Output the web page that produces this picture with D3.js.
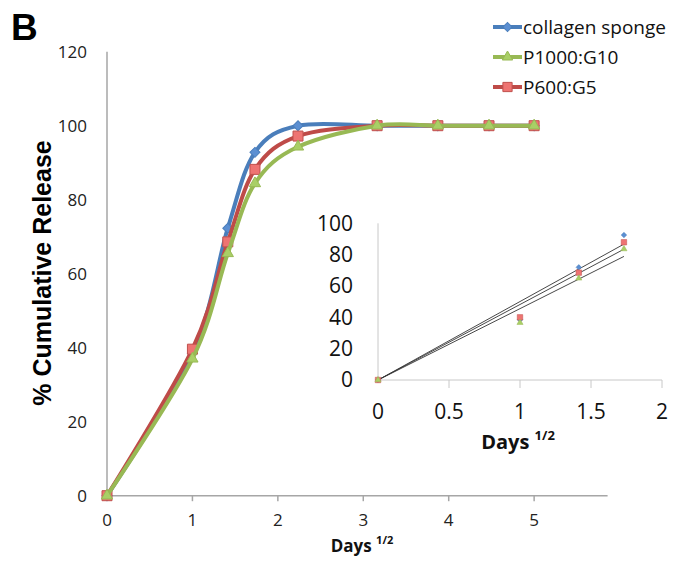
<!DOCTYPE html>
<html>
<head>
<meta charset="utf-8">
<script src="https://cdn.jsdelivr.net/npm/d3@7"></script>
<style>
  body { margin: 0; background: #fff; }
</style>
</head>
<body>
<div id="chart"></div>
<script>
// main chart: cumulative release vs sqrt(days)
const sqrtDays = [0, 1, 1.414, 1.732, 2.236, 3.162, 3.873, 4.472, 5];
const collagen = [0, 38.5, 72.3, 92.8, 100.0, 100, 100, 100, 100];
const p1000 = [0, 37.0, 65.5, 84.4, 94.3, 100, 100, 100, 100];
const p600 = [0, 39.6, 68.6, 88.2, 97.2, 100, 100, 100, 100];
const seriesNames = ["collagen sponge", "P1000:G10", "P600:G5"];
const yTicks = [0, 20, 40, 60, 80, 100, 120];
const xTicks = [0, 1, 2, 3, 4, 5];

// inset: early points with linear fits through the origin
const insetX = [0, 1, 1.414, 1.732];
const insetCollagen = [0, 38.5, 71.9, 92.5];
const insetP1000 = [0, 36.6, 64.9, 83.6];
const insetP600 = [0, 40.0, 68.5, 87.9];
const insetYTicks = [0, 20, 40, 60, 80, 100];
const insetXTicks = [0, 0.5, 1, 1.5, 2];

const width = 675, height = 561;
const svg = d3.select("#chart").append("svg")
  .attr("width", width)
  .attr("height", height)
  .style("font-family", "'Open Sans', sans-serif");

const x = d3.scaleLinear().domain([0, 5.86]).range([107, 607.6]);
const y = d3.scaleLinear().domain([0, 120]).range([495.7, 51.7]);

const series = [
  { name: seriesNames[0], values: collagen, inset: insetCollagen, line: "#4a7ebb", fill: "#5b8fd2", stroke: "#4a7ebb", shape: "diamond" },
  { name: seriesNames[2], values: p600, inset: insetP600, line: "#be4b48", fill: "#ee7472", stroke: "#c0504d", shape: "square" },
  { name: seriesNames[1], values: p1000, inset: insetP1000, line: "#98b954", fill: "#a9cf66", stroke: "#98b954", shape: "triangle" }
];

function marker(shape, scale) {
  if (shape === "diamond") return { path: d3.symbol(d3.symbolSquare, 50 * scale)(), rot: 45 };
  if (shape === "square") return { path: d3.symbol(d3.symbolSquare, 100 * scale)(), rot: 0 };
  return { path: d3.symbol(d3.symbolTriangle, 55 * scale)(), rot: 0 };
}

// panel letter
svg.append("text")
  .attr("x", 11).attr("y", 40)
  .style("font-family", "'Liberation Sans', Arial, sans-serif")
  .style("font-weight", "bold")
  .style("font-size", "37px")
  .text("B");

// axes
svg.append("line")
  .attr("x1", x(0)).attr("x2", x(0))
  .attr("y1", y(120)).attr("y2", y(0))
  .attr("stroke", "#a6a6a6").attr("stroke-width", 1.5);
svg.append("line")
  .attr("x1", x(0)).attr("x2", x(5.86))
  .attr("y1", y(0)).attr("y2", y(0))
  .attr("stroke", "#a6a6a6").attr("stroke-width", 1.5);

svg.append("g").selectAll("line")
  .data(xTicks.slice(1))
  .join("line")
  .attr("x1", d => x(d)).attr("x2", d => x(d))
  .attr("y1", y(0)).attr("y2", y(0) + 5.5)
  .attr("stroke", "#a6a6a6").attr("stroke-width", 1.5);

svg.append("g").selectAll("text")
  .data(xTicks)
  .join("text")
  .attr("x", d => x(d))
  .attr("y", 520)
  .attr("dy", "0.35em")
  .attr("text-anchor", "middle")
  .style("font-size", "17px")
  .style("fill", "#222")
  .text(d => d);

svg.append("g").selectAll("text")
  .data(yTicks)
  .join("text")
  .attr("x", 87)
  .attr("y", d => y(d))
  .attr("dy", "0.35em")
  .attr("text-anchor", "end")
  .style("font-size", "17px")
  .style("fill", "#222")
  .text(d => d);

// axis titles
svg.append("text")
  .attr("transform", "translate(42,273) rotate(-90)")
  .attr("text-anchor", "middle")
  .attr("dy", "0.35em")
  .style("font-family", "'Liberation Sans', Arial, sans-serif")
  .style("font-weight", "bold")
  .style("font-size", "25px")
  .text("% Cumulative Release");

function daysTitle(cx, baseline, size) {
  const t = svg.append("text")
    .attr("x", cx).attr("y", baseline)
    .attr("text-anchor", "middle")
    .style("font-weight", "bold")
    .style("font-size", size + "px")
    .style("fill", "#111");
  t.append("tspan").text("Days ");
  t.append("tspan")
    .attr("dy", -size * 0.45)
    .style("font-size", (size * 0.65) + "px")
    .text("1/2");
}
daysTitle(362, 552, 17);

// main curves
const line = d3.line()
  .x((d, i) => x(sqrtDays[i]))
  .y(d => y(d))
  .curve(d3.curveCardinal.tension(0));

series.forEach(s => {
  svg.append("path")
    .datum(s.values)
    .attr("fill", "none")
    .attr("stroke", s.line)
    .attr("stroke-width", 4)
    .attr("stroke-linejoin", "round")
    .attr("d", line);

  const m = marker(s.shape, 1);
  svg.append("g").selectAll("path")
    .data(s.values)
    .join("path")
    .attr("transform", (d, i) => `translate(${x(sqrtDays[i])},${y(d)}) rotate(${m.rot})`)
    .attr("d", m.path)
    .attr("fill", s.fill)
    .attr("stroke", s.stroke)
    .attr("stroke-width", 1);
});

// legend
const legendOrder = [series[0], series[2], series[1]];
const legendY = [27, 57, 87];
legendOrder.forEach((s, i) => {
  const g = svg.append("g");
  g.append("line")
    .attr("x1", 493).attr("x2", 522)
    .attr("y1", legendY[i]).attr("y2", legendY[i])
    .attr("stroke", s.line).attr("stroke-width", 4);
  const m = marker(s.shape, 0.85);
  g.append("path")
    .attr("transform", `translate(507.5,${legendY[i]}) rotate(${m.rot})`)
    .attr("d", m.path)
    .attr("fill", s.fill)
    .attr("stroke", s.stroke);
  g.append("text")
    .attr("x", 523).attr("y", legendY[i])
    .attr("dy", "0.35em")
    .style("font-size", "19px")
    .style("fill", "#111")
    .text(s.name);
});

// inset
const ix = d3.scaleLinear().domain([0, 2]).range([378, 662]);
const iy = d3.scaleLinear().domain([0, 100]).range([380, 223.3]);

svg.append("line")
  .attr("x1", ix(0)).attr("x2", ix(0))
  .attr("y1", iy(100)).attr("y2", iy(0))
  .attr("stroke", "#c8c8c8").attr("stroke-width", 1);
svg.append("line")
  .attr("x1", ix(0)).attr("x2", ix(2))
  .attr("y1", iy(0)).attr("y2", iy(0))
  .attr("stroke", "#c8c8c8").attr("stroke-width", 1);
svg.append("g").selectAll("line")
  .data(insetXTicks.slice(1))
  .join("line")
  .attr("x1", d => ix(d)).attr("x2", d => ix(d))
  .attr("y1", iy(0)).attr("y2", iy(0) + 8)
  .attr("stroke", "#c8c8c8").attr("stroke-width", 1);

svg.append("g").selectAll("text")
  .data(insetYTicks)
  .join("text")
  .attr("x", 353)
  .attr("y", d => iy(d))
  .attr("dy", "0.35em")
  .attr("text-anchor", "end")
  .style("font-size", "21px")
  .style("fill", "#111")
  .text(d => d);

svg.append("g").selectAll("text")
  .data(insetXTicks)
  .join("text")
  .attr("x", d => ix(d))
  .attr("y", 412)
  .attr("dy", "0.35em")
  .attr("text-anchor", "middle")
  .style("font-size", "21px")
  .style("fill", "#111")
  .text(d => d);

daysTitle(518, 449, 20);

// trend lines: least squares through the origin
series.forEach(s => {
  const slope = d3.sum(insetX, (v, i) => v * s.inset[i]) / d3.sum(insetX, v => v * v);
  const xEnd = d3.max(insetX);
  svg.append("line")
    .attr("x1", ix(0)).attr("y1", iy(0))
    .attr("x2", ix(xEnd)).attr("y2", iy(slope * xEnd))
    .attr("stroke", "#333").attr("stroke-width", 0.9);
});

series.forEach(s => {
  const m = marker(s.shape, 0.3);
  svg.append("g").selectAll("path")
    .data(s.inset)
    .join("path")
    .attr("transform", (d, i) => `translate(${ix(insetX[i])},${iy(d)}) rotate(${m.rot})`)
    .attr("d", m.path)
    .attr("fill", s.fill)
    .attr("stroke", s.stroke)
    .attr("stroke-width", 0.5);
});
</script>
</body>
</html>
